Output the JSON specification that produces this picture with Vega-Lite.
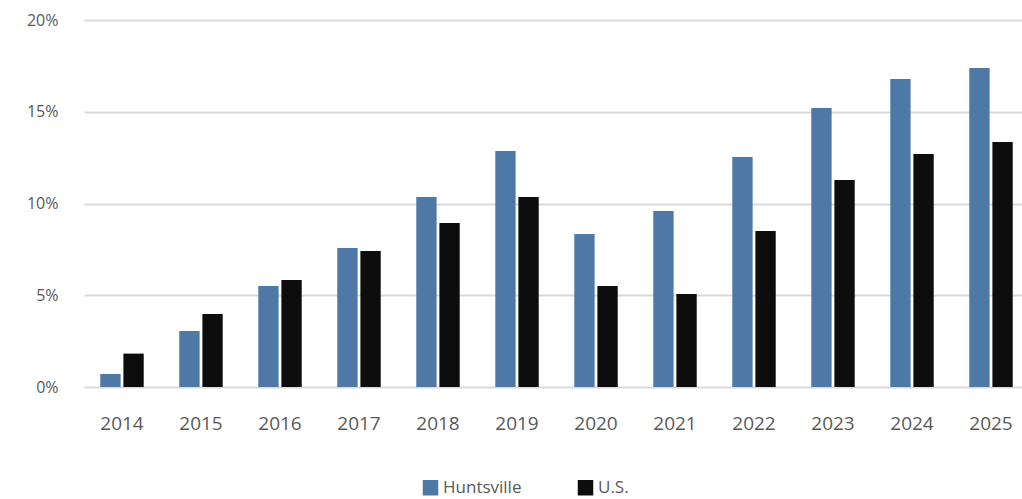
{
  "$schema": "https://vega.github.io/schema/vega-lite/v6.json",
  "autosize": "none",
  "padding": {"left": 84, "top": 20, "right": 0, "bottom": 112},
  "width": 945,
  "height": 367,
  "background": "white",
  "data": {"values": [
    {"year": "2014", "series": "Huntsville", "value": 0.0071},
    {"year": "2014", "series": "U.S.", "value": 0.0182},
    {"year": "2015", "series": "Huntsville", "value": 0.0305},
    {"year": "2015", "series": "U.S.", "value": 0.0398},
    {"year": "2016", "series": "Huntsville", "value": 0.055},
    {"year": "2016", "series": "U.S.", "value": 0.0583},
    {"year": "2017", "series": "Huntsville", "value": 0.0757},
    {"year": "2017", "series": "U.S.", "value": 0.0741},
    {"year": "2018", "series": "Huntsville", "value": 0.1035},
    {"year": "2018", "series": "U.S.", "value": 0.0894},
    {"year": "2019", "series": "Huntsville", "value": 0.1286},
    {"year": "2019", "series": "U.S.", "value": 0.1035},
    {"year": "2020", "series": "Huntsville", "value": 0.0834},
    {"year": "2020", "series": "U.S.", "value": 0.055},
    {"year": "2021", "series": "Huntsville", "value": 0.0959},
    {"year": "2021", "series": "U.S.", "value": 0.0507},
    {"year": "2022", "series": "Huntsville", "value": 0.1253},
    {"year": "2022", "series": "U.S.", "value": 0.085},
    {"year": "2023", "series": "Huntsville", "value": 0.152},
    {"year": "2023", "series": "U.S.", "value": 0.1128},
    {"year": "2024", "series": "Huntsville", "value": 0.1678},
    {"year": "2024", "series": "U.S.", "value": 0.127},
    {"year": "2025", "series": "Huntsville", "value": 0.1738},
    {"year": "2025", "series": "U.S.", "value": 0.1335}
  ]},
  "mark": {"type": "bar"},
  "encoding": {
    "x": {
      "field": "year", "type": "nominal", "title": null,
      "scale": {"paddingInner": 0.45, "paddingOuter": 0.206},
      "axis": {"labelAngle": 0, "domain": false, "ticks": false, "labelPadding": 27,
               "labelFont": "Open Sans", "labelFontSize": 19, "labelColor": "#595959"}
    },
    "xOffset": {"field": "series", "type": "nominal", "scale": {"paddingInner": 0.12}},
    "y": {
      "field": "value", "type": "quantitative", "title": null,
      "scale": {"domain": [0, 0.2], "nice": false},
      "axis": {"format": ".0%", "values": [0, 0.05, 0.1, 0.15, 0.2], "labelOverlap": false,
               "domain": false, "ticks": false, "labelPadding": 26,
               "labelFont": "Open Sans", "labelFontSize": 16, "labelColor": "#595959",
               "gridColor": "#d9d9d9", "gridWidth": 2}
    },
    "color": {
      "field": "series", "type": "nominal",
      "scale": {"domain": ["Huntsville", "U.S."], "range": ["#4e79a7", "#0d0d0d"]},
      "legend": {"title": null, "orient": "none", "direction": "horizontal",
                 "legendX": 338, "legendY": 459, "symbolType": "square", "symbolSize": 240,
                 "symbolStrokeWidth": 0,
                 "labelFont": "Open Sans", "labelFontSize": 17, "labelColor": "#595959",
                 "columnPadding": 55}
    }
  },
  "config": {"view": {"stroke": null}}
}
